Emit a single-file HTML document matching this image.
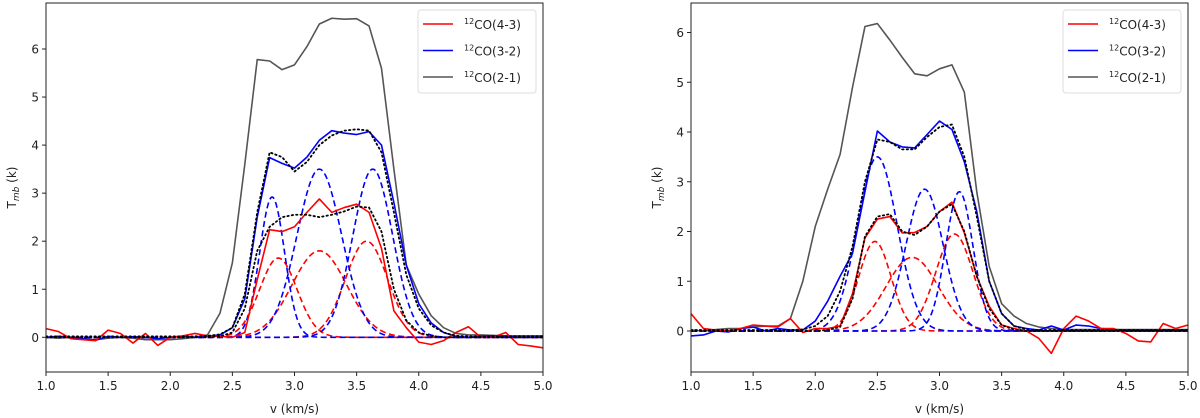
<!DOCTYPE html>
<html><head><meta charset="utf-8"><style>
body{margin:0;background:#fff;}
svg{display:block;font-family:"DejaVu Sans","Liberation Sans",sans-serif;}
</style></head><body>
<svg id="fig" width="1200" height="418" viewBox="0 0 1200 418" xmlns="http://www.w3.org/2000/svg"></svg>
<script>
const vel = [1.0,1.1,1.2,1.3,1.4,1.5,1.6,1.7,1.8,1.9,2.0,2.1,2.2,2.3,2.4,2.5,2.6,2.7,2.8,2.9,3.0,3.1,3.2,3.3,3.4,3.5,3.6,3.7,3.8,3.9,4.0,4.1,4.2,4.3,4.4,4.5,4.6,4.7,4.8,4.9,5.0];
const xTicks = [1.0,1.5,2.0,2.5,3.0,3.5,4.0,4.5,5.0];
const yTicks = [0,1,2,3,4,5,6];
const seriesNames = ["CO(4-3)","CO(3-2)","CO(2-1)"];
// Left panel observed spectra
const leftCO43 = [0.18,0.12,-0.03,-0.05,-0.07,0.15,0.08,-0.12,0.08,-0.17,0.0,0.03,0.08,0.03,0.02,0.0,0.1,1.2,2.24,2.2,2.3,2.6,2.88,2.6,2.7,2.77,2.6,1.85,0.55,0.2,-0.1,-0.15,-0.07,0.1,0.22,0.0,0.0,0.1,-0.15,-0.18,-0.22];
const leftCO32 = [0.0,0.02,0.0,-0.03,-0.06,0.02,0.0,0.01,0.0,-0.03,0.0,0.02,0.0,0.02,0.05,0.2,0.8,2.5,3.74,3.62,3.52,3.75,4.1,4.3,4.25,4.22,4.28,4.0,2.8,1.5,0.7,0.3,0.1,0.02,0.0,0.02,0.03,0.02,0.0,0.0,0.0];
const leftCO21 = [0.0,-0.02,0.0,-0.03,-0.05,-0.02,0.0,-0.02,-0.05,-0.05,-0.05,-0.03,0.0,0.05,0.5,1.55,3.6,5.78,5.75,5.57,5.67,6.05,6.52,6.64,6.62,6.63,6.48,5.6,3.5,1.5,0.9,0.45,0.2,0.08,0.05,0.05,0.04,0.03,0.03,0.03,0.03];
// Left panel total fits (dotted)
const leftFit43 = [0,0,0,0,0,0,0,0,0,0,0,0,0,0,0.02,0.1,0.6,1.8,2.3,2.5,2.55,2.55,2.5,2.55,2.62,2.72,2.7,2.2,1.0,0.35,0.1,0.03,0,0,0,0,0,0,0,0,0];
const leftFit32 = [0.02,0.02,0.02,0.02,0.02,0.02,0.02,0.02,0.02,0.02,0.02,0.02,0.02,0.03,0.06,0.2,0.9,2.6,3.85,3.75,3.45,3.65,4.0,4.2,4.3,4.33,4.3,3.85,2.6,1.3,0.6,0.25,0.1,0.03,0.02,0.02,0.02,0.02,0.02,0.02,0.02];
// Left panel gaussian components: amplitude, centre, sigma
const leftRedAmp = [1.65,1.8,2.0], leftRedCen = [2.87,3.2,3.58], leftRedSig = [0.15,0.22,0.17];
const leftBlueAmp = [2.92,3.5,3.5], leftBlueCen = [2.82,3.2,3.63], leftBlueSig = [0.1,0.18,0.16];
// Right panel observed spectra
const rightCO43 = [0.35,0.05,0.02,0.0,0.05,0.12,0.1,0.08,0.25,-0.03,0.05,0.05,0.1,0.75,1.87,2.25,2.3,1.97,1.98,2.1,2.4,2.59,1.97,1.1,0.5,0.12,0.05,0.0,-0.15,-0.45,0.05,0.3,0.2,0.05,0.05,-0.05,-0.2,-0.22,0.15,0.05,0.12];
const rightCO32 = [-0.1,-0.08,0.0,-0.02,0.05,0.08,0.0,0.05,0.02,0.02,0.2,0.6,1.1,1.56,2.8,4.02,3.8,3.7,3.68,3.95,4.22,4.05,3.4,2.4,1.0,0.35,0.1,0.05,0.02,0.1,0.02,0.12,0.1,0.05,0.03,0.02,0.02,0.02,0.02,0.02,0.02];
const rightCO21 = [0.02,0.0,0.03,0.05,0.05,0.08,0.1,0.1,0.25,1.0,2.1,2.85,3.55,4.9,6.12,6.18,5.85,5.5,5.17,5.13,5.27,5.35,4.8,2.8,1.3,0.55,0.3,0.15,0.08,0.05,0.03,0.03,0.03,0.03,0.03,0.03,0.03,0.03,0.03,0.03,0.03];
// Right panel total fits (dotted)
const rightFit43 = [0,0,0,0,0,0,0,0,0,0,0,0.02,0.08,0.65,1.9,2.3,2.35,2.0,1.93,2.1,2.4,2.55,2.0,1.1,0.45,0.12,0.03,0,0,0,0,0,0,0,0,0,0,0,0,0,0];
const rightFit32 = [0.02,0.02,0.02,0.02,0.02,0.02,0.02,0.02,0.02,0.03,0.1,0.3,0.8,1.7,3.0,3.85,3.8,3.65,3.65,3.9,4.1,4.15,3.5,2.3,1.0,0.35,0.1,0.03,0.02,0.02,0.02,0.02,0.02,0.02,0.02,0.02,0.02,0.02,0.02,0.02,0.02];
const rightRedAmp = [1.8,1.48,1.95], rightRedCen = [2.48,2.78,3.12], rightRedSig = [0.13,0.21,0.15];
const rightBlueAmp = [3.5,2.85,2.8], rightBlueCen = [2.5,2.88,3.16], rightBlueSig = [0.16,0.15,0.11];

const NS="http://www.w3.org/2000/svg";
const svg=document.getElementById('fig');
function mk(tag,attrs,parent){const e=document.createElementNS(NS,tag);for(const k in attrs)e.setAttribute(k,attrs[k]);(parent||svg).appendChild(e);return e;}
function gauss(a,c,s,v){return a*Math.exp(-(v-c)*(v-c)/(2*s*s));}

function panel(P){
  const g=mk('g',{});
  
  
  const xs=v=>P.x0+(v-1.0)/(5.0-1.0)*(P.x1-P.x0);
  const ys=t=>P.yz-t*P.yu;
  const clip=mk('clipPath',{id:P.name+'-clip'},g);
  mk('rect',{x:P.x0,y:P.y0,width:P.x1-P.x0,height:P.y1-P.y0},clip);
  const cg=mk('g',{'clip-path':'url(#'+P.name+'-clip)'},g);
  const poly=(pts,stroke,w,dash,nm)=>{
    const p=mk('polyline',{points:pts.map(q=>xs(q[0]).toFixed(2)+','+ys(q[1]).toFixed(2)).join(' '),fill:'none',stroke:stroke,'stroke-width':w,'stroke-linejoin':'round'},cg);
    if(dash)p.setAttribute('stroke-dasharray',dash);
    
    
    return p;
  };
  const fine=[];for(let v=1.0;v<=5.0001;v+=0.01)fine.push(v);
  const comps=(A,C,S,col,nm)=>{for(let i=0;i<A.length;i++)poly(fine.map(v=>[v,gauss(A[i],C[i],S[i],v)]),col,1.6,'6,3.5',nm+'-'+(i+1));};
  comps(P.rA,P.rC,P.rS,'#ff0000',P.name+'-red-component');
  comps(P.bA,P.bC,P.bS,'#0000ff',P.name+'-blue-component');
  poly(vel.map((v,i)=>[v,P.s21[i]]),'#555',1.6,null,P.name+'-co21-line');
  poly(vel.map((v,i)=>[v,P.s32[i]]),'#0000ff',1.6,null,P.name+'-co32-line');
  poly(vel.map((v,i)=>[v,P.s43[i]]),'#ff0000',1.6,null,P.name+'-co43-line');
  const d1=poly(vel.map((v,i)=>[v,P.f32[i]]),'#000',1.8,'1.4,3',P.name+'-co32-fit-sum');
  d1.setAttribute('stroke-linecap','round');
  const d2=poly(vel.map((v,i)=>[v,P.f43[i]]),'#000',1.8,'1.4,3',P.name+'-co43-fit-sum');
  d2.setAttribute('stroke-linecap','round');
  const fr=mk('rect',{x:P.x0,y:P.y0,width:P.x1-P.x0,height:P.y1-P.y0,fill:'none',stroke:'#222','stroke-width':1},g);
  
  xTicks.forEach(t=>{const x=xs(t);mk('line',{x1:x,x2:x,y1:P.y1,y2:P.y1+4,stroke:'#222'},g);
    const tx=mk('text',{x:x,y:P.y1+18,'text-anchor':'middle','font-size':'12',fill:'#222'},g);tx.textContent=t.toFixed(1);
    });
  yTicks.forEach(t=>{const y=ys(t);mk('line',{x1:P.x0-4,x2:P.x0,y1:y,y2:y,stroke:'#222'},g);
    const tx=mk('text',{x:P.x0-7,y:y+4.5,'text-anchor':'end','font-size':'12',fill:'#222'},g);tx.textContent=t;
    });
  const xl=mk('text',{x:(P.x0+P.x1)/2,y:413,'text-anchor':'middle','font-size':'12',fill:'#222'},g);xl.textContent='v (km/s)';
  
  const yl=mk('text',{transform:'translate('+(P.x0-30)+','+((P.y0+P.y1)/2)+') rotate(-90)','text-anchor':'middle','font-size':'12',fill:'#222'},g);
  yl.innerHTML='T<tspan font-style="italic" font-size="9" dy="3">mb</tspan><tspan dy="-3"> (k)</tspan>';
  
  const lg=mk('g',{},g);
  const lx=P.x1-125;
  mk('rect',{x:lx,y:10,width:118,height:83,rx:3,fill:'#fff','fill-opacity':0.8,stroke:'#ddd'},lg);
  const cols=['#ff0000','#0000ff','#555'];
  seriesNames.forEach((n,i)=>{const y=24+i*26.5;
    const en=mk('g',{},lg);
    mk('line',{x1:lx+5,x2:lx+35,y1:y,y2:y,stroke:cols[i],'stroke-width':1.6},en);
    const t=mk('text',{x:lx+46,y:y+5,'font-size':'12',fill:'#222'},en);
    t.innerHTML='<tspan font-size="8" dy="-5">12</tspan><tspan dy="5">'+n+'</tspan>';});
}
panel({name:'left-panel',x0:46,x1:543,y0:3,y1:372,yz:337.3,yu:48.05,s43:leftCO43,s32:leftCO32,s21:leftCO21,f43:leftFit43,f32:leftFit32,rA:leftRedAmp,rC:leftRedCen,rS:leftRedSig,bA:leftBlueAmp,bC:leftBlueCen,bS:leftBlueSig});
panel({name:'right-panel',x0:691,x1:1188,y0:3,y1:372,yz:331,yu:49.75,s43:rightCO43,s32:rightCO32,s21:rightCO21,f43:rightFit43,f32:rightFit32,rA:rightRedAmp,rC:rightRedCen,rS:rightRedSig,bA:rightBlueAmp,bC:rightBlueCen,bS:rightBlueSig});
</script>
</body></html>
